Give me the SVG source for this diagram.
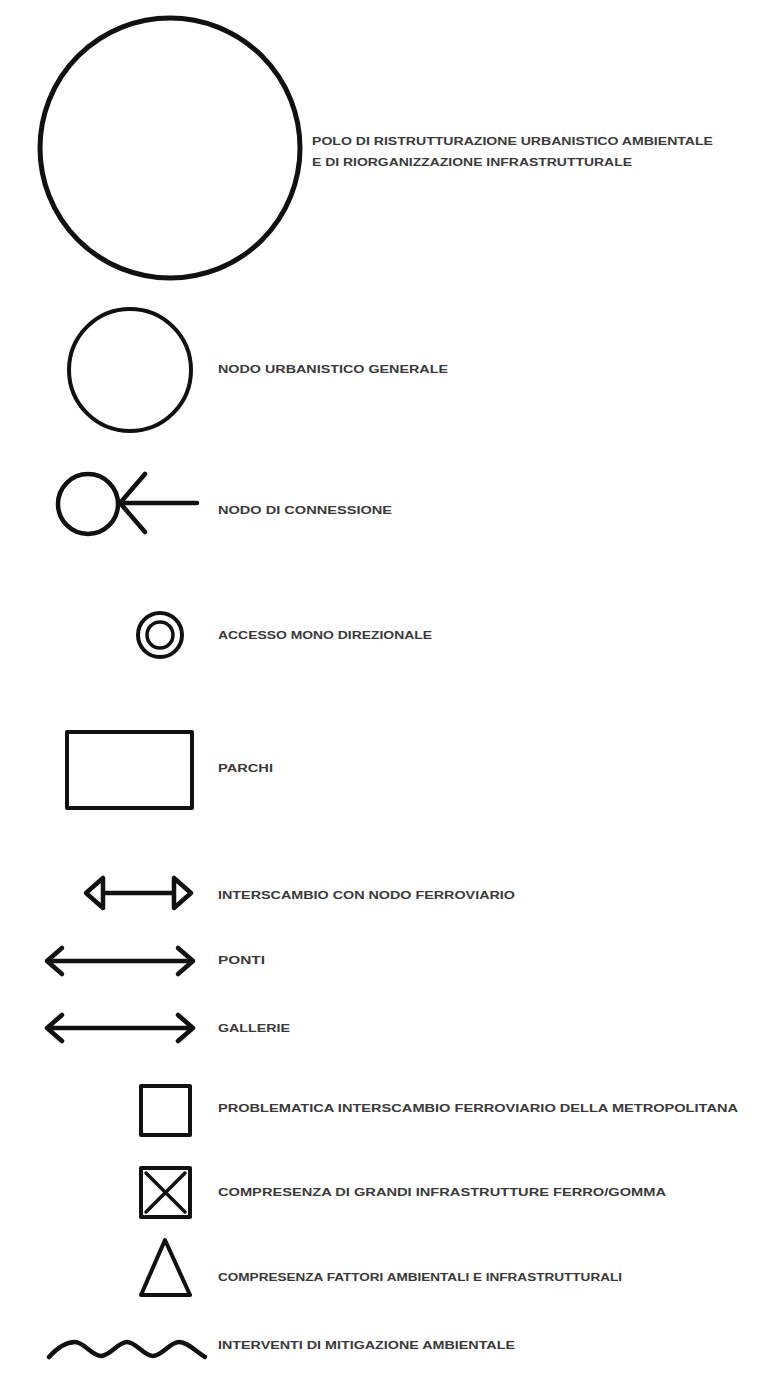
<svg xmlns="http://www.w3.org/2000/svg" width="757" height="1376" viewBox="0 0 757 1376">
<style>
.s{fill:none;stroke:#111;stroke-linecap:round;stroke-linejoin:round}
.t{font-family:"Liberation Sans",Arial,sans-serif;font-size:10.5px;font-weight:bold;fill:#3a3a3a}
</style>
<rect width="757" height="1376" fill="#fff"/>
<g id="polo">
<circle class="s" cx="170" cy="148" r="130" stroke-width="5"/>
<text class="t" x="312" y="145" textLength="401" lengthAdjust="spacingAndGlyphs">POLO DI RISTRUTTURAZIONE URBANISTICO AMBIENTALE</text>
<text class="t" x="312" y="166" textLength="320" lengthAdjust="spacingAndGlyphs">E DI RIORGANIZZAZIONE INFRASTRUTTURALE</text>
</g>
<g id="nodo-urbanistico">
<circle class="s" cx="130" cy="370" r="61" stroke-width="4"/>
<text class="t" x="218" y="373" textLength="230" lengthAdjust="spacingAndGlyphs">NODO URBANISTICO GENERALE</text>
</g>
<g id="nodo-connessione">
<circle class="s" cx="88" cy="504" r="30" stroke-width="4.5"/>
<path class="s" d="M145 474 L120 503 L145 532 M120 503 L197 503" stroke-width="4.5"/>
<text class="t" x="218" y="514" textLength="174" lengthAdjust="spacingAndGlyphs">NODO DI CONNESSIONE</text>
</g>
<g id="accesso">
<circle class="s" cx="160" cy="635" r="22" stroke-width="4"/>
<circle class="s" cx="160" cy="635" r="13" stroke-width="3.5"/>
<text class="t" x="218" y="639" textLength="214" lengthAdjust="spacingAndGlyphs">ACCESSO MONO DIREZIONALE</text>
</g>
<g id="parchi">
<rect class="s" x="67" y="732" width="125" height="76" stroke-width="4"/>
<text class="t" x="218" y="772" textLength="55" lengthAdjust="spacingAndGlyphs">PARCHI</text>
</g>
<g id="interscambio">
<path class="s" d="M86 893 L103 878 L103 908 Z M191 893 L174 878 L174 908 Z M103 893 L174 893" stroke-width="4.5"/>
<text class="t" x="218" y="899" textLength="297" lengthAdjust="spacingAndGlyphs">INTERSCAMBIO CON NODO FERROVIARIO</text>
</g>
<g id="ponti">
<path class="s" d="M47 961 L193 961 M62 948 L47 961 L62 974 M178 948 L193 961 L178 974" stroke-width="4.5"/>
<text class="t" x="218" y="964" textLength="47" lengthAdjust="spacingAndGlyphs">PONTI</text>
</g>
<g id="gallerie">
<path class="s" d="M47 1028 L193 1028 M62 1015 L47 1028 L62 1041 M178 1015 L193 1028 L178 1041" stroke-width="4.5"/>
<text class="t" x="218" y="1032" textLength="72" lengthAdjust="spacingAndGlyphs">GALLERIE</text>
</g>
<g id="problematica">
<rect class="s" x="141" y="1086" width="49" height="49" stroke-width="4"/>
<text class="t" x="218" y="1112" textLength="520" lengthAdjust="spacingAndGlyphs">PROBLEMATICA INTERSCAMBIO FERROVIARIO DELLA METROPOLITANA</text>
</g>
<g id="compresenza-infrastrutture">
<rect class="s" x="141" y="1168" width="49" height="49" stroke-width="4"/>
<path class="s" d="M146 1173 L185 1212 M185 1173 L146 1212" stroke-width="3.5"/>
<text class="t" x="218" y="1196" textLength="448" lengthAdjust="spacingAndGlyphs">COMPRESENZA DI GRANDI INFRASTRUTTURE FERRO/GOMMA</text>
</g>
<g id="compresenza-fattori">
<path class="s" d="M165 1240 L190 1295 L141 1295 Z" stroke-width="4"/>
<text class="t" x="218" y="1281" textLength="404" lengthAdjust="spacingAndGlyphs">COMPRESENZA FATTORI AMBIENTALI E INFRASTRUTTURALI</text>
</g>
<g id="mitigazione">
<path class="s" d="M49 1357 C58 1347 66 1342 75 1342 S92 1356 101 1356 S118 1342 127 1342 S144 1356 153 1356 S170 1342 179 1342 S196 1352 205 1357" stroke-width="4.5"/>
<text class="t" x="218" y="1349" textLength="297" lengthAdjust="spacingAndGlyphs">INTERVENTI DI MITIGAZIONE AMBIENTALE</text>
</g>
<g id="connectors"></g>
</svg>
